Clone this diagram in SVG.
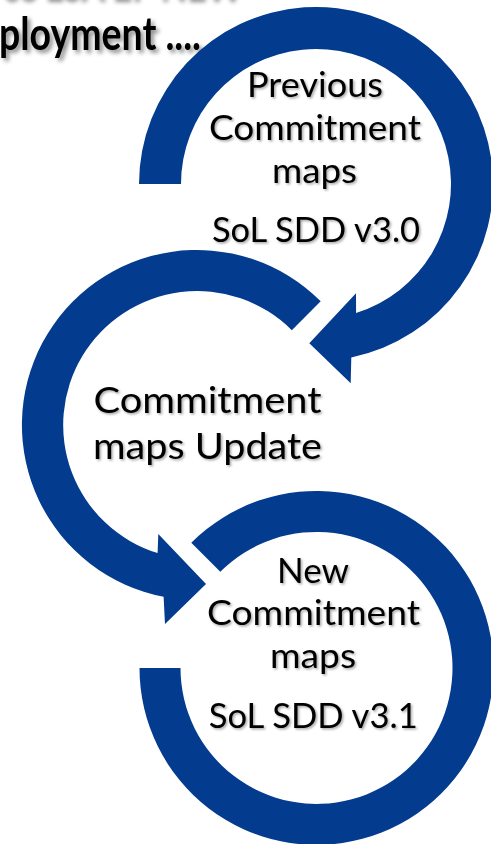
<svg xmlns="http://www.w3.org/2000/svg" width="491" height="844" viewBox="0 0 491 844">
<defs>
<style>
.ring{fill:#033b8f;}
.t{font-family:Lato,"Open Sans","Liberation Sans",sans-serif;fill:#000;text-anchor:middle;filter:url(#sh);}
.s35{font-size:35px;}
.s37{font-size:37px;}
.title{font-family:Lato,"Open Sans","Liberation Sans",sans-serif;font-weight:bold;font-size:45px;fill:#000;filter:url(#sh2);}
</style>
<filter id="sh" x="-10%" y="-20%" width="130%" height="150%">
<feDropShadow dx="1.5" dy="1.5" stdDeviation="1" flood-color="#000" flood-opacity="0.35"/>
</filter>
<filter id="sh2" x="-10%" y="-20%" width="130%" height="160%">
<feDropShadow dx="3" dy="3" stdDeviation="2" flood-color="#000" flood-opacity="0.45"/>
</filter>
</defs>
<rect width="491" height="844" fill="#fff"/>
<g id="title">
<text class="title" x="0" y="-1" textLength="240" lengthAdjust="spacingAndGlyphs">ce LSA EP NEW</text>
<text class="title" x="-1" y="50" textLength="202" lengthAdjust="spacingAndGlyphs">ployment ....</text>
</g>
<g id="connectors">
<path id="arrow1" class="ring" d="M139 184 A177 177 0 1 1 351.3 357.4 L350.7 383.3 L309.3 343.3 L356 293.3 L356.1 312.9 A135 135 0 1 0 181 184 Z"/>
<path id="arrow2" class="ring" d="M320.7 301.3 A175 175 0 1 0 163.6 596.8 L165 624 L206 584 L158.3 534 L157.6 553.1 A134 134 0 1 1 291.8 330.2 Z"/>
<path id="ring3" class="ring" d="M139.5 668 A177 177 0 1 0 191.3 542.8 L220.3 571.8 A136 136 0 1 1 180.5 668 Z"/>
</g>
<g id="node-previous">
<text class="t s35" x="315" y="96.5" textLength="136" lengthAdjust="spacingAndGlyphs">Previous</text>
<text class="t s35" x="315" y="139.5" textLength="212" lengthAdjust="spacingAndGlyphs">Commitment</text>
<text class="t s35" x="314.5" y="182.5" textLength="85" lengthAdjust="spacingAndGlyphs">maps</text>
<text class="t s35" x="316" y="241.5" textLength="208" lengthAdjust="spacingAndGlyphs">SoL SDD v3.0</text>
</g>
<g id="node-update">
<text class="t s37" x="207.5" y="413" textLength="228" lengthAdjust="spacingAndGlyphs">Commitment</text>
<text class="t s37" x="207.5" y="459" textLength="229" lengthAdjust="spacingAndGlyphs">maps Update</text>
</g>
<g id="node-new">
<text class="t s35" x="313" y="583.3" textLength="72" lengthAdjust="spacingAndGlyphs">New</text>
<text class="t s35" x="313.5" y="625" textLength="213" lengthAdjust="spacingAndGlyphs">Commitment</text>
<text class="t s35" x="313" y="668" textLength="86" lengthAdjust="spacingAndGlyphs">maps</text>
<text class="t s35" x="313.3" y="728.3" textLength="209" lengthAdjust="spacingAndGlyphs">SoL SDD v3.1</text>
</g>
</svg>
